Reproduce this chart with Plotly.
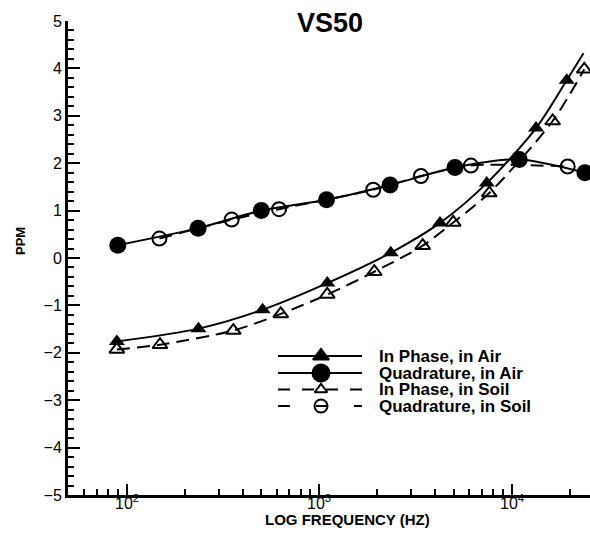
import plotly.graph_objects as go

# ---- measured response of the VS50 target (PPM vs. frequency in Hz) ----
freq_inph_air = [89, 236, 508, 1100, 2350, 4230, 7400, 13330, 19230]
ppm_inph_air = [-1.76, -1.49, -1.09, -0.53, 0.11, 0.74, 1.58, 2.74, 3.75]

freq_quad_air = [90, 235, 500, 1090, 2330, 5060, 10900, 23900]
ppm_quad_air = [0.27, 0.63, 1.00, 1.23, 1.54, 1.91, 2.08, 1.80]

freq_inph_soil = [89, 149, 358, 631, 1100, 1930, 3440, 4955, 7620, 16250, 23710]
ppm_inph_soil = [-1.93, -1.83, -1.53, -1.18, -0.77, -0.29, 0.26, 0.75, 1.37, 2.89, 3.98]

freq_quad_soil = [148, 351, 618, 1905, 3370, 6120, 19450]
ppm_quad_soil = [0.41, 0.81, 1.03, 1.44, 1.73, 1.95, 1.93]

# the fitted in-phase (air) curve runs a little past the last marker
inph_air_fit_end_hz = 23500
inph_air_fit_end_ppm = 4.32

# decade tick labels on the frequency axis
decade_exponents = [2, 3, 4]

series_names = ["In Phase, in Air", "Quadrature, in Air",
                "In Phase, in Soil", "Quadrature, in Soil"]

FONT = "Liberation Sans, Arial, Helvetica, sans-serif"
DATA_DASH = "13px,7px"

fig = go.Figure()

# fitted curves
fig.add_trace(go.Scatter(
    x=freq_inph_air + [inph_air_fit_end_hz], y=ppm_inph_air + [inph_air_fit_end_ppm],
    mode="lines", line=dict(color="black", width=2, shape="spline", smoothing=0.8),
    showlegend=False, hoverinfo="skip"))
fig.add_trace(go.Scatter(
    x=freq_quad_air, y=ppm_quad_air,
    mode="lines", line=dict(color="black", width=2, shape="spline", smoothing=0.8),
    showlegend=False, hoverinfo="skip"))
fig.add_trace(go.Scatter(
    x=freq_inph_soil, y=ppm_inph_soil,
    mode="lines", line=dict(color="black", width=2, dash=DATA_DASH, shape="spline", smoothing=0.8),
    showlegend=False, hoverinfo="skip"))
fig.add_trace(go.Scatter(
    x=freq_quad_soil, y=ppm_quad_soil,
    mode="lines", line=dict(color="black", width=2, dash=DATA_DASH, shape="spline", smoothing=0.8),
    showlegend=False, hoverinfo="skip"))

# measured points
fig.add_trace(go.Scatter(
    x=freq_inph_air, y=ppm_inph_air, mode="markers", name=series_names[0],
    marker=dict(symbol="triangle-up", size=14, color="black"), showlegend=False))
fig.add_trace(go.Scatter(
    x=freq_quad_air, y=ppm_quad_air, mode="markers", name=series_names[1],
    marker=dict(symbol="circle", size=17, color="black"), showlegend=False))
fig.add_trace(go.Scatter(
    x=freq_inph_soil, y=ppm_inph_soil, mode="markers", name=series_names[2],
    marker=dict(symbol="triangle-up-open", size=13, color="black",
                line=dict(width=2, color="black")), showlegend=False))
fig.add_trace(go.Scatter(
    x=freq_quad_soil, y=ppm_quad_soil, mode="markers", name=series_names[3],
    marker=dict(symbol="circle-open", size=14, color="black",
                line=dict(width=2, color="black")), showlegend=False))

# ---- legend keys, drawn on an overlay axis measured in pixels ----
key_rows = [356, 373, 389.5, 406]
key_x0, key_x1, key_mid, text_x = 278, 362, 321, 377
key_styles = [
    dict(dash="solid", symbol="triangle-up", size=14),
    dict(dash="solid", symbol="circle", size=17),
    dict(dash="12px,12px", symbol="triangle-up-open", size=11),
    dict(dash="12px,26px", symbol="circle-open", size=13),
]
for row_y, style, label in zip(key_rows, key_styles, series_names):
    fig.add_trace(go.Scatter(
        x=[key_x0, key_x1], y=[row_y, row_y], xaxis="x2", yaxis="y2",
        mode="lines", line=dict(color="black", width=2, dash=style["dash"]),
        showlegend=False, hoverinfo="skip"))
    fig.add_trace(go.Scatter(
        x=[key_mid], y=[row_y], xaxis="x2", yaxis="y2", mode="markers",
        marker=dict(symbol=style["symbol"], size=style["size"], color="black",
                    line=dict(width=2, color="black")),
        showlegend=False, hoverinfo="skip"))
    fig.add_annotation(x=text_x, y=row_y, xref="x2", yref="y2", text=label,
                       showarrow=False, xanchor="left", yanchor="middle",
                       font=dict(family=FONT, size=17, color="black", weight="bold"))

L, R, T, B = 68, 0, 21, 49
W, H = 590, 544
pw, ph = W - L - R, H - T - B

def px_to_paper(px, py):
    return (px - L) / pw, (H - B - py) / ph

x_lo = 2 - (126.6 - L) / 192.7
x_hi = 2 + (W - R - 126.6) / 192.7

# decade labels set tight under the axis line
_, lab_y = px_to_paper(0, 491)
for e in decade_exponents:
    fig.add_annotation(x=e, y=lab_y, xref="x", yref="paper",
                       text=f"10<sup>{e}</sup>", showarrow=False,
                       xanchor="center", yanchor="top", borderpad=0,
                       font=dict(family=FONT, size=16, color="black"))

tx, ty = px_to_paper(330, 23)
fig.add_annotation(x=tx, y=ty, xref="paper", yref="paper", text="VS50",
                   showarrow=False, xanchor="center", yanchor="middle",
                   font=dict(family=FONT, size=27, color="black", weight="bold"))
xt, yt = px_to_paper(347, 519)
fig.add_annotation(x=xt, y=yt, xref="paper", yref="paper", text="LOG FREQUENCY (HZ)",
                   showarrow=False, xanchor="center", yanchor="middle",
                   font=dict(family=FONT, size=15, color="black", weight="bold"))
px_, py_ = px_to_paper(20, 241)
fig.add_annotation(x=px_, y=py_, xref="paper", yref="paper", text="PPM", textangle=-90,
                   showarrow=False, xanchor="center", yanchor="middle",
                   font=dict(family=FONT, size=13, color="black", weight="bold"))

fig.update_layout(
    width=W, height=H,
    margin=dict(l=L, r=R, t=T, b=B, pad=0),
    paper_bgcolor="white", plot_bgcolor="white",
    font=dict(family=FONT, color="black"),
    showlegend=False,
    xaxis=dict(
        type="log", range=[x_lo, x_hi], dtick=1, showticklabels=False,
        showline=True, linewidth=3, linecolor="black", mirror=False,
        ticks="inside", ticklen=11, tickwidth=2, tickcolor="black",
        showgrid=False, zeroline=False,
        minor=dict(dtick="D1", ticks="inside", ticklen=6, tickwidth=1.5,
                   tickcolor="black", showgrid=False),
    ),
    yaxis=dict(
        range=[-5, 5], dtick=1,
        showline=True, linewidth=3, linecolor="black", mirror=False,
        ticks="inside", ticklen=12, tickwidth=2, tickcolor="black",
        tickfont=dict(size=16, color="black"),
        showgrid=False, zeroline=False,
        minor=dict(dtick=0.2, ticks="inside", ticklen=6, tickwidth=1.5,
                   tickcolor="black", showgrid=False),
    ),
    xaxis2=dict(overlaying="x", anchor="y2", range=[L, W - R], visible=False),
    yaxis2=dict(overlaying="y", anchor="x2", range=[H - B, T], visible=False),
)

fig.write_html("out.html", include_plotlyjs=True, config={"displayModeBar": False})
